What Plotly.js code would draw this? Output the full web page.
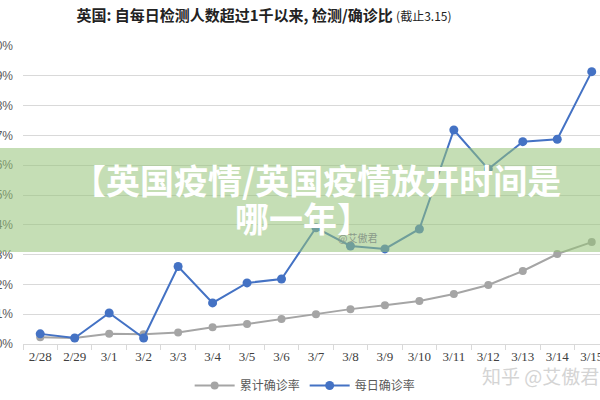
<!DOCTYPE html>
<html>
<head>
<meta charset="utf-8">
<script src="https://cdn.plot.ly/plotly-3.0.1.min.js"></script>
<style>html,body{margin:0;padding:0;background:#fff;}#chart{width:600px;height:400px;}</style>
</head>
<body>
<div id="chart"></div>
<script>
const categories = ["2/28","2/29","3/1","3/2","3/3","3/4","3/5","3/6","3/7","3/8","3/9","3/10","3/11","3/12","3/13","3/14","3/15"];
const cumulativeRate = [0.0023,0.0020,0.0034,0.0033,0.0039,0.0056,0.0067,0.0084,0.0100,0.0117,0.0130,0.0144,0.0168,0.0198,0.0245,0.0302,0.0342];
const dailyRate = [0.0034,0.0020,0.0104,0.0020,0.0260,0.0138,0.0205,0.0218,0.0390,0.0329,0.0319,0.0386,0.0718,0.0587,0.0679,0.0687,0.0914];
const seriesNames = ["累计确诊率","每日确诊率"];
const yTicks = [0,0.01,0.02,0.03,0.04,0.05,0.06,0.07,0.08,0.09,0.10];
const yTickText = ["0%","1%","2%","3%","4%","5%","6%","7%","8%","9%","10%"];

const cjk = '"Noto Sans CJK SC", "Noto Sans", sans-serif';
const traces = [
  {x: categories, y: cumulativeRate, name: seriesNames[0], type: 'scatter', mode: 'lines+markers',
   line: {color: '#A5A5A5', width: 2}, marker: {color: '#A5A5A5', size: 8}},
  {x: categories, y: dailyRate, name: seriesNames[1], type: 'scatter', mode: 'lines+markers',
   line: {color: '#4472C4', width: 2}, marker: {color: '#4472C4', size: 9}}
];

const layout = {
  width: 600, height: 400,
  margin: {l: 23, r: 0, t: 46, b: 56},
  paper_bgcolor: '#fff', plot_bgcolor: '#fff',
  title: {
    text: '<b>英国: 自每日检测人数超过1千以来, 检测/确诊比</b> <span style="font-size:12px">(截止3.15)</span>',
    font: {family: '"Noto Sans CJK SC", "Liberation Serif", serif', size: 15, color: '#222'},
    x: 0.44, xref: 'container', xanchor: 'center', y: 0.96, yref: 'container', yanchor: 'middle'
  },
  xaxis: {
    type: 'category', range: [-0.5, 16.24],
    showgrid: false, showline: true, linecolor: '#d9d9d9', linewidth: 1,
    ticks: 'outside', tickson: 'boundaries', ticklen: 5, tickcolor: '#d9d9d9',
    tickfont: {family: '"Liberation Serif", serif', size: 13, color: '#404040'},
    fixedrange: true
  },
  yaxis: {
    range: [0, 0.10], tickvals: yTicks, ticktext: yTickText,
    showgrid: true, gridcolor: '#d9d9d9', gridwidth: 1, zeroline: false, showline: false,
    ticks: '', ticklabelstandoff: 9,
    tickfont: {family: '"Liberation Sans", sans-serif', size: 12, color: '#595959'},
    fixedrange: true
  },
  showlegend: true,
  legend: {orientation: 'h', x: 0.489, xanchor: 'center', y: -0.141, yanchor: 'middle',
    font: {family: cjk, size: 12, color: '#595959'}, itemwidth: 40, traceorder: 'normal'},
  shapes: [
    {type: 'rect', xref: 'paper', yref: 'paper', x0: -0.1, x1: 1.1, y0: 0.309, y1: 0.658,
     fillcolor: 'rgba(150,195,120,0.55)', line: {width: 0}, layer: 'above'}
  ],
  annotations: [
    {text: '<b>【英国疫情/英国疫情放开时间是</b>', xref: 'paper', yref: 'paper', x: (316-23)/577, y: (344-179)/298,
     xanchor: 'center', yanchor: 'middle', showarrow: false,
     font: {family: cjk, size: 34, color: '#ffffff'}},
    {text: '<b>哪一年】</b>', xref: 'paper', yref: 'paper', x: (303-23)/577, y: (344-217)/298,
     xanchor: 'center', yanchor: 'middle', showarrow: false,
     font: {family: cjk, size: 34, color: '#ffffff'}},
    {text: '@艾傲君', xref: 'paper', yref: 'paper', x: 0.579, y: 0.356, xanchor: 'center', yanchor: 'middle',
     showarrow: false, font: {family: cjk, size: 10, color: '#8a9a8a'}},
    {text: '知乎 @艾傲君', xref: 'paper', yref: 'paper', x: (480-23)/577, y: (344-375)/298, xanchor: 'left', yanchor: 'middle',
     showarrow: false, font: {family: cjk, size: 19, color: '#d4d4d4'}}
  ]
};

Plotly.newPlot('chart', traces, layout, {displayModeBar: false, staticPlot: true});
</script>
</body>
</html>
